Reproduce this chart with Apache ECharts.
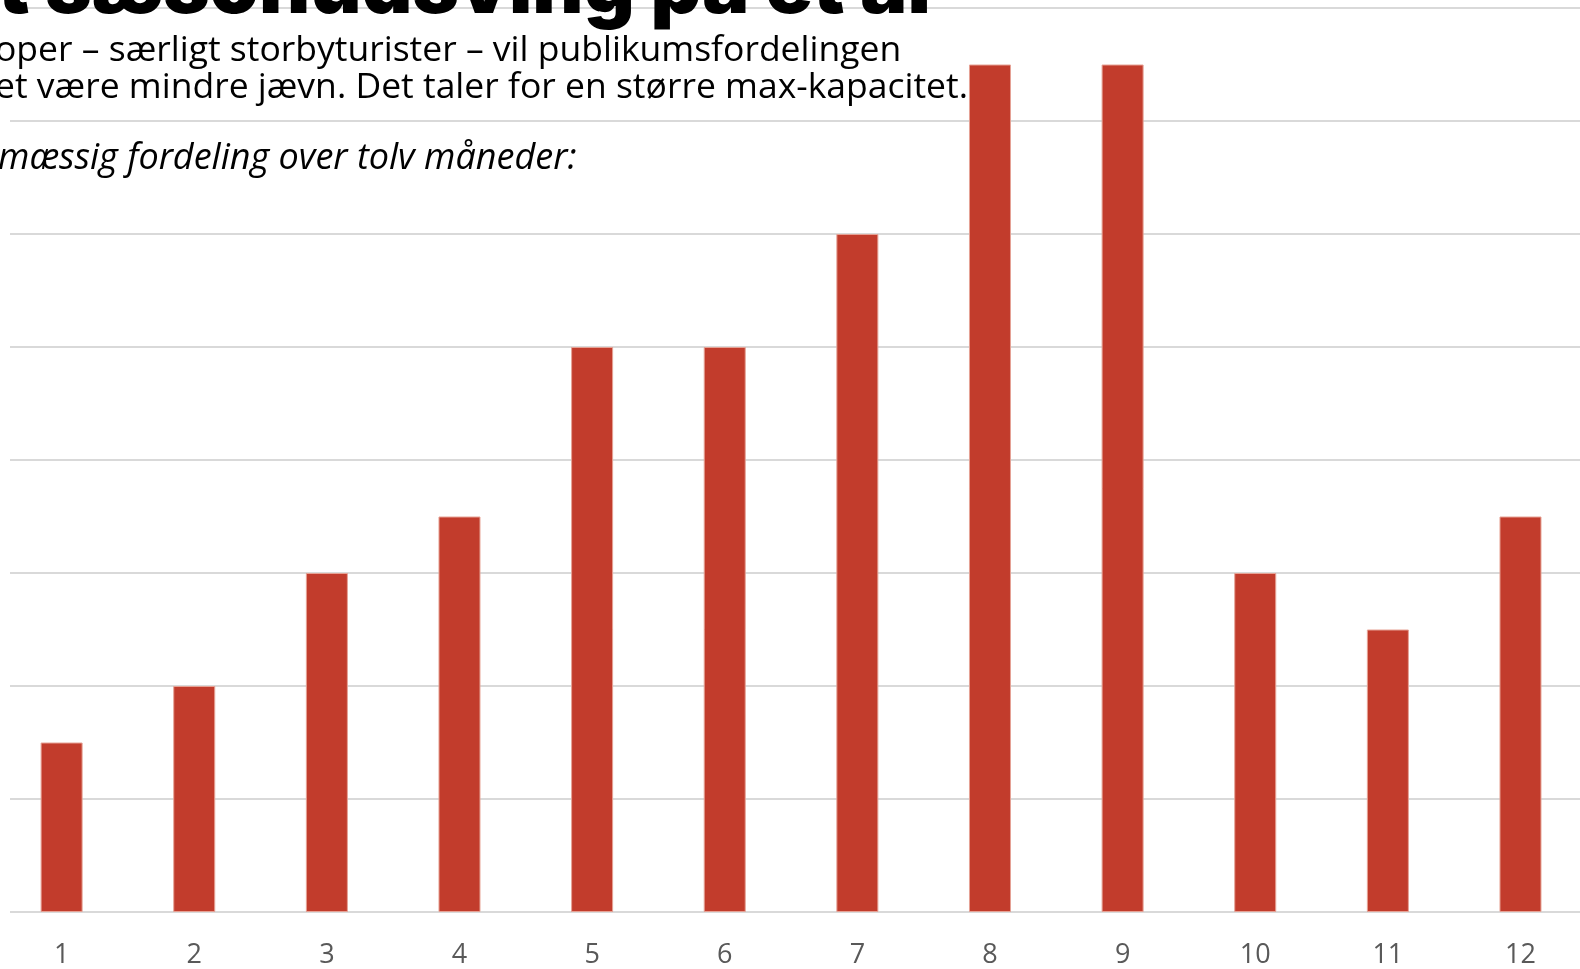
<!DOCTYPE html>
<html><head><meta charset="utf-8">
<script src="https://cdn.jsdelivr.net/npm/echarts@6/dist/echarts.min.js"></script>
<style>html,body{margin:0;padding:0;background:#fff;overflow:hidden;width:1580px;height:969px;position:relative;}
#c{position:absolute;left:-5px;top:0;width:1592px;height:969px;}</style>
</head><body><div id="c"></div>
<script>
const categories = ['1','2','3','4','5','6','7','8','9','10','11','12'];
const values = [1.5, 2, 3, 3.5, 5, 5, 6, 7.5, 7.5, 3, 2.5, 3.5];
const titleText = 't sæsonudsving på et år';
const subtitleLines = [
  'oper – særligt storbyturister – vil publikumsfordelingen',
  'et være mindre jævn. Det taler for en større max-kapacitet.'
];
const noteText = 'mæssig fordeling over tolv måneder:';

const chart = echarts.init(document.getElementById('c'));
chart.setOption({
  animation: false,
  backgroundColor: '#fff',
  grid: { left: 0.3, right: 0.2, top: 8, bottom: 54, containLabel: false },
  xAxis: {
    type: 'category', data: categories,
    axisLine: { show: true, lineStyle: { color: '#d9d9d9', width: 2 } },
    axisTick: { show: false },
    axisLabel: { color: '#595959', fontFamily: 'Open Sans', fontSize: 27, margin: 30 }
  },
  yAxis: {
    type: 'value', min: 0, max: 8, interval: 1,
    axisLabel: { show: false }, axisLine: { show: false }, axisTick: { show: false },
    splitLine: { lineStyle: { color: '#d9d9d9', width: 2 } }
  },
  series: [{
    type: 'bar', data: values, barWidth: 42,
    itemStyle: { color: '#C23C2C', borderColor: '#E6A295', borderWidth: 1 }
  }],
  graphic: [
    { type: 'rect', z: 1, shape: { x: 0, y: 0, width: 15, height: 969 }, style: { fill: '#fff' } },
    { type: 'text', z: 10, left: 3, top: -50,
      style: { text: titleText, fill: '#000', font: '900 79px Inter' } },
    { type: 'text', z: 10, left: 0, top: 32,
      style: { text: subtitleLines.join('\n'), fill: '#000', font: '400 35.5px "Open Sans"', lineHeight: 37 } },
    { type: 'text', z: 10, left: 3, top: 141,
      style: { text: noteText, fill: '#000', font: 'italic 400 36px "Open Sans"' } }
  ]
});
</script></body></html>
